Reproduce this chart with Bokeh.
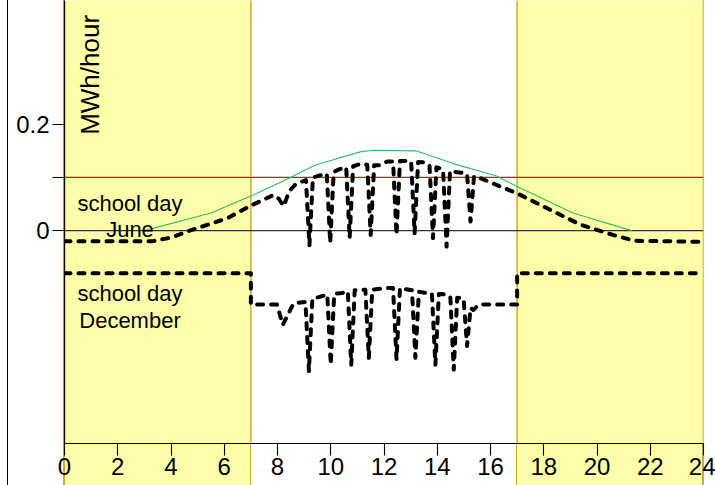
from math import pi
from bokeh.plotting import figure
from bokeh.models import Range1d, FixedTicker, BoxAnnotation, Span, Label
from bokeh.embed import file_html
from bokeh.resources import INLINE

# ---------------- data ----------------
hour_ticks = [0, 2, 4, 6, 8, 10, 12, 14, 16, 18, 20, 22, 24]
y_ticks = [0, 0.1, 0.2]
y_tick_labels = {0: "0", 0.1: "", 0.2: "0.2"}

offhours_start = [0, 17]
offhours_end = [7, 24]
threshold = 0.1

june_hours = [0, 3.3, 4.0, 4.7, 6.1, 7.0, 7.85, 8.05, 8.23, 8.45,
              8.7, 9.07, 9.2, 9.33, 9.6, 9.85, 9.98, 10.11, 10.3, 10.58,
              10.71, 10.84, 11.1, 11.37, 11.5, 11.63, 11.87, 12.12, 12.34, 12.47,
              12.6, 12.8, 13.02, 13.15, 13.28, 13.55, 13.71, 13.84, 13.97, 14.1,
              14.22, 14.35, 14.48, 14.6, 15.0, 15.12, 15.25, 15.38, 15.6, 16.07,
              17.0, 18.13, 19.39, 20.6, 21.4, 24]
june_mwh = [-0.020, -0.020, -0.013, 0.0, 0.023, 0.047, 0.067, 0.060, 0.046, 0.075,
            0.088, 0.095, -0.028, 0.100, 0.104, 0.107, -0.023, 0.110, 0.115, 0.119,
            -0.014, 0.121, 0.125, 0.124, -0.008, 0.123, 0.123, 0.130, 0.130, -0.008,
            0.131, 0.131, 0.130, -0.005, 0.129, 0.128, 0.122, -0.014, 0.119, 0.117,
            0.114, -0.030, 0.112, 0.111, 0.108, 0.106, 0.017, 0.102, 0.099, 0.089,
            0.070, 0.042, 0.011, -0.008, -0.019, -0.021]

dec_hours = [0, 7.0, 7.0, 7.98, 8.2, 8.6, 9.05, 9.18, 9.31, 9.55,
             9.87, 10.0, 10.13, 10.43, 10.64, 10.77, 10.9, 11.3, 11.43, 11.56,
             12.06, 12.34, 12.47, 12.6, 13.05, 13.18, 13.31, 13.6, 13.8, 13.93,
             14.06, 14.31, 14.49, 14.62, 14.75, 14.99, 15.12, 15.25, 15.35, 15.56,
             17.0, 17.0, 24]
dec_mwh = [-0.080, -0.080, -0.139, -0.139, -0.177, -0.137, -0.134, -0.264, -0.128, -0.125,
           -0.120, -0.252, -0.119, -0.117, -0.114, -0.252, -0.112, -0.111, -0.239, -0.111,
           -0.108, -0.108, -0.242, -0.108, -0.112, -0.239, -0.115, -0.117, -0.118, -0.252,
           -0.119, -0.120, -0.124, -0.261, -0.126, -0.128, -0.217, -0.145, -0.149, -0.139,
           -0.139, -0.080, -0.080]

pv_hours = [3.0, 5.5, 7.0, 8.3, 9.4, 11.1, 11.6, 13.2, 14.6, 16.2, 17.0, 19.1, 21.3]
pv_mwh = [0.0, 0.033, 0.065, 0.095, 0.123, 0.148, 0.151, 0.150, 0.126, 0.103, 0.083, 0.033, 0.0]

# ---------------- styling ----------------
FONT = "Liberation Sans"
YELLOW = "#ffffaa"
GOLD = "#d4a82a"

grad = ("linear-gradient(to right, #ffffff 7px, #000000 7px, #000000 8.5px, #ffffff 8.5px, "
        "#ffffff 63.5px, " + GOLD + " 63.5px, " + GOLD + " 65px, " + YELLOW + " 65px, "
        + YELLOW + " 249.7px, " + GOLD + " 249.7px, " + GOLD + " 251.2px, #ffffff 251.2px, "
        "#ffffff 515.9px, " + GOLD + " 515.9px, " + GOLD + " 517.4px, " + YELLOW + " 517.4px, "
        + YELLOW + " 702.2px, " + GOLD + " 702.2px, " + GOLD + " 703.7px, #ffffff 703.7px)")

p = figure(width=715, height=485,
           x_range=Range1d(0, 24), y_range=Range1d(-0.4, 0.4325),
           output_backend="svg", toolbar_location=None,
           min_border_left=64, min_border_right=12,
           min_border_top=0, min_border_bottom=42)
p.styles = {"position": "absolute", "left": "0px", "top": "0px", "background": grad}
p.border_fill_alpha = 0
p.background_fill_color = "#ffffff"
p.outline_line_color = None
p.grid.visible = False

# off-school-hours bands
for s, e in zip(offhours_start, offhours_end):
    p.add_layout(BoxAnnotation(left=s, right=e, fill_color=YELLOW, fill_alpha=1.0,
                               line_color=None, level="underlay"))
for xe in offhours_start + offhours_end:
    p.add_layout(Span(location=xe, dimension="height", line_color=GOLD,
                      line_width=1.5, level="underlay"))

p.add_layout(Span(location=0, dimension="width", line_color="#333333",
                  line_width=1.3, level="underlay"))
p.add_layout(Span(location=threshold, dimension="width", line_color="#ff0000",
                  line_width=1.3, level="underlay"))

p.line(pv_hours, pv_mwh, line_color="#33bb66", line_width=1.1)
p.line(june_hours, june_mwh, line_color="#000000", line_width=4,
       line_dash="6 8", line_cap="round", line_join="round")
p.line(dec_hours, dec_mwh, line_color="#000000", line_width=4,
       line_dash="6 8", line_cap="round", line_join="round")

# texts
for txt, yy in [("school day", 0.0515), ("June", 0.0013),
                ("school day", -0.1177), ("December", -0.168)]:
    p.add_layout(Label(x=2.46, y=yy, text=txt, text_align="center",
                       text_baseline="alphabetic", text_font=FONT,
                       text_font_size="22px", text_color="#000000"))
p.add_layout(Label(x=0.95, y=0.180, text="MWh/hour", angle=pi / 2,
                   text_align="left", text_baseline="alphabetic",
                   text_font=FONT, text_font_size="26px", text_color="#000000"))

# axes
xa = p.xaxis[0]
xa.ticker = FixedTicker(ticks=hour_ticks)
ya = p.yaxis[0]
ya.ticker = FixedTicker(ticks=y_ticks)
ya.major_label_overrides = y_tick_labels
for ax in (xa, ya):
    ax.axis_line_color = "#000000"
    ax.axis_line_width = 1.2
    ax.major_tick_line_color = "#000000"
    ax.major_tick_line_width = 1.1
    ax.major_tick_out = 12
    ax.major_tick_in = 0
    ax.minor_tick_line_color = None
    ax.major_label_text_font = FONT
    ax.major_label_text_font_size = "24px"
    ax.major_label_text_color = "#000000"
xa.major_label_standoff = 2
ya.major_label_standoff = 3

open("out.html", "w").write(file_html(p, INLINE))
